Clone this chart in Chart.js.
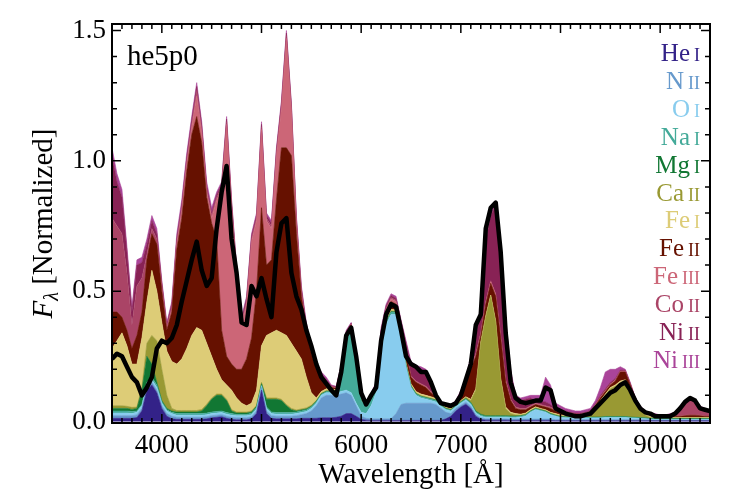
<!DOCTYPE html>
<html>
<head>
<meta charset="utf-8">
<script src="https://cdn.jsdelivr.net/npm/chart.js@4.4.1/dist/chart.umd.min.js"></script>
<style>
  html, body { margin: 0; padding: 0; background: #fff; }
  #wrap { width: 747px; height: 498px; position: relative; }
</style>
</head>
<body>
<div id="wrap"><canvas id="spectrumChart"></canvas></div>
<script>
// wavelength grid (Angstrom)
const wavelength = [
  3500,3550,3600,3650,3700,3750,3800,3850,3900,3950,
  4000,4050,4100,4150,4200,4250,4300,4350,4400,4450,
  4500,4550,4600,4650,4700,4750,4800,4850,4900,4950,
  5000,5050,5100,5150,5200,5250,5300,5350,5400,5450,
  5500,5550,5600,5650,5700,5750,5800,5850,5900,5950,
  6000,6050,6100,6150,6200,6250,6300,6350,6400,6450,
  6500,6550,6600,6650,6700,6750,6800,6850,6900,6950,
  7000,7050,7100,7150,7200,7250,7300,7350,7400,7450,
  7500,7550,7600,7650,7700,7750,7800,7850,7900,7950,
  8000,8050,8100,8150,8200,8250,8300,8350,8400,8450,
  8500,8550,8600,8650,8700,8750,8800,8850,8900,8950,
  9000,9050,9100,9150,9200,9250,9300,9350,9400,9450,9500
];

// cumulative flux: top edge of each species band, bottom band first
const heI = [
  .012,.012,.012,.012,.012,.015,.040,.120,.140,.110,
  .050,.020,.010,.008,.008,.008,.008,.008,.008,.010,
  .014,.016,.018,.012,.008,.006,.006,.006,.010,.030,
  .120,.030,.012,.010,.010,.010,.010,.010,.012,.012,
  .012,.012,.014,.014,.014,.016,.020,.030,.030,.020,
  .008,.005,.004,.004,.004,.004,.004,.004,.004,.004,
  .004,.004,.004,.004,.004,.004,.004,.010,.020,.040,
  .055,.066,.050,.020,.008,.005,.005,.005,.005,.005,
  .004,.004,.004,.004,.004,.004,.004,.004,.004,.003,
  .003,.003,.003,.003,.003,.003,.003,.003,.003,.003,
  .003,.003,.003,.003,.003,.003,.003,.003,.003,.003,
  .003,.003,.003,.003,.003,.003,.003,.003,.003,.003,.003
];
const nII = [
  .022,.022,.022,.022,.022,.025,.050,.130,.150,.120,
  .060,.030,.020,.016,.016,.016,.016,.016,.016,.018,
  .022,.024,.026,.020,.016,.014,.014,.014,.018,.040,
  .130,.040,.022,.020,.020,.020,.020,.022,.026,.030,
  .040,.060,.090,.100,.100,.100,.105,.110,.100,.060,
  .020,.012,.010,.010,.010,.010,.010,.030,.065,.070,
  .070,.070,.070,.070,.070,.065,.050,.035,.030,.050,
  .062,.074,.058,.026,.014,.010,.010,.010,.010,.010,
  .009,.009,.009,.009,.009,.009,.009,.009,.009,.007,
  .007,.007,.007,.007,.007,.007,.007,.007,.007,.007,
  .007,.007,.007,.007,.007,.007,.007,.006,.006,.005,
  .005,.005,.005,.005,.005,.005,.005,.005,.005,.005,.005
];
const oI = [
  .032,.032,.032,.032,.030,.035,.060,.140,.160,.130,
  .070,.040,.030,.024,.024,.024,.024,.024,.024,.026,
  .030,.032,.034,.028,.024,.022,.022,.022,.026,.048,
  .136,.050,.030,.028,.028,.028,.028,.030,.034,.038,
  .050,.070,.100,.110,.110,.110,.115,.120,.110,.070,
  .035,.030,.060,.110,.260,.370,.410,.410,.330,.210,
  .130,.100,.090,.085,.080,.075,.058,.045,.040,.056,
  .070,.082,.066,.032,.020,.015,.015,.015,.015,.015,
  .014,.014,.016,.020,.035,.045,.040,.035,.025,.020,
  .015,.014,.013,.012,.012,.013,.013,.013,.013,.015,
  .015,.015,.015,.015,.013,.012,.011,.010,.008,.007,
  .007,.007,.007,.007,.007,.007,.007,.007,.007,.007,.007
];
const naI = [
  .040,.040,.040,.040,.038,.040,.065,.150,.170,.140,
  .075,.045,.035,.030,.030,.030,.030,.030,.030,.032,
  .036,.038,.040,.034,.030,.027,.027,.027,.031,.053,
  .140,.055,.036,.034,.034,.034,.034,.036,.040,.044,
  .055,.075,.104,.114,.114,.115,.180,.320,.355,.225,
  .080,.055,.085,.120,.270,.380,.420,.418,.335,.215,
  .135,.105,.095,.090,.085,.080,.061,.048,.043,.059,
  .073,.086,.070,.036,.024,.019,.019,.019,.019,.019,
  .018,.018,.020,.024,.038,.048,.043,.038,.028,.022,
  .017,.016,.015,.014,.014,.015,.015,.015,.015,.017,
  .017,.017,.017,.017,.015,.014,.013,.012,.010,.009,
  .009,.009,.009,.009,.009,.009,.009,.009,.009,.009,.009
];
const mgI = [
  .050,.050,.050,.050,.046,.050,.120,.250,.220,.150,
  .080,.050,.040,.036,.036,.036,.036,.036,.040,.060,
  .085,.100,.100,.080,.040,.032,.032,.032,.036,.058,
  .145,.085,.085,.085,.080,.060,.045,.040,.044,.048,
  .058,.078,.106,.116,.116,.117,.182,.322,.357,.227,
  .082,.057,.087,.122,.272,.382,.422,.420,.337,.217,
  .137,.107,.097,.092,.087,.082,.063,.050,.045,.061,
  .075,.088,.073,.040,.028,.022,.022,.022,.022,.022,
  .021,.021,.022,.026,.040,.050,.045,.040,.030,.024,
  .019,.018,.017,.016,.016,.017,.017,.017,.017,.019,
  .019,.019,.019,.019,.017,.016,.015,.014,.012,.011,
  .011,.011,.011,.011,.011,.011,.011,.011,.011,.011,.011
];
const caII = [
  .060,.060,.060,.058,.054,.055,.130,.300,.330,.310,
  .200,.100,.050,.042,.042,.042,.042,.042,.046,.066,
  .090,.105,.105,.085,.045,.036,.036,.036,.040,.062,
  .150,.090,.090,.090,.085,.065,.050,.044,.048,.052,
  .062,.080,.108,.118,.118,.119,.184,.324,.359,.229,
  .084,.059,.089,.124,.274,.384,.424,.422,.339,.219,
  .139,.109,.099,.094,.089,.084,.065,.052,.047,.063,
  .078,.092,.080,.120,.300,.400,.480,.380,.160,.050,
  .030,.025,.024,.028,.042,.052,.047,.042,.032,.026,
  .021,.020,.019,.018,.018,.019,.025,.050,.075,.100,
  .125,.135,.145,.150,.120,.080,.045,.025,.015,.013,
  .013,.013,.013,.013,.013,.013,.013,.013,.013,.013,.013
];
const feI = [
  .28,.31,.34,.29,.22,.22,.32,.46,.58,.50,
  .38,.27,.23,.22,.24,.28,.33,.36,.35,.30,
  .25,.20,.16,.14,.12,.09,.07,.06,.07,.12,
  .29,.33,.34,.35,.34,.33,.30,.27,.24,.17,
  .11,.09,.115,.125,.124,.122,.187,.327,.362,.231,
  .086,.060,.091,.126,.280,.390,.430,.428,.345,.225,
  .145,.115,.105,.100,.095,.088,.067,.054,.049,.065,
  .080,.095,.085,.125,.305,.405,.485,.385,.165,.055,
  .035,.030,.028,.032,.046,.056,.050,.045,.035,.030,
  .025,.023,.022,.021,.021,.022,.030,.055,.080,.105,
  .130,.140,.155,.160,.130,.085,.050,.030,.020,.016,
  .015,.015,.015,.015,.015,.015,.015,.015,.015,.015,.015
];
const feII = [
  .42,.42,.40,.35,.28,.33,.42,.62,.72,.68,
  .50,.35,.42,.66,.78,.96,1.10,1.17,1.07,.86,
  .76,.70,.35,.25,.22,.20,.20,.24,.32,.50,
  .82,.60,.62,.85,1.05,1.05,1.02,.72,.48,.35,
  .26,.20,.17,.15,.13,.127,.205,.337,.370,.238,
  .092,.062,.100,.135,.320,.420,.460,.450,.370,.260,
  .170,.150,.140,.130,.110,.095,.070,.058,.055,.070,
  .100,.150,.200,.250,.330,.450,.530,.480,.320,.150,
  .080,.050,.045,.045,.055,.065,.060,.055,.050,.040,
  .035,.030,.028,.025,.025,.028,.035,.060,.090,.115,
  .140,.155,.190,.190,.140,.088,.055,.035,.028,.020,
  .018,.018,.018,.019,.020,.022,.024,.024,.022,.020,.020
];
const feIII = [
  .42,.42,.40,.35,.28,.33,.42,.62,.72,.68,
  .51,.355,.43,.68,.81,.99,1.13,1.25,1.11,.88,
  .78,.85,.89,1.14,.82,.57,.37,.45,.69,.77,
  1.12,.77,.74,1.02,1.20,1.47,1.19,.76,.49,.355,
  .262,.202,.172,.152,.132,.129,.207,.339,.372,.240,
  .093,.063,.102,.138,.330,.430,.470,.460,.372,.262,
  .172,.152,.142,.132,.112,.097,.071,.059,.056,.071,
  .102,.152,.205,.255,.335,.455,.535,.485,.325,.155,
  .082,.052,.047,.047,.057,.067,.062,.057,.052,.042,
  .037,.032,.030,.027,.027,.030,.037,.062,.092,.117,
  .142,.157,.192,.192,.142,.089,.056,.036,.029,.021,
  .019,.019,.019,.020,.021,.023,.025,.025,.023,.021,.021
];
const coII = [
  .78,.75,.72,.57,.37,.52,.55,.64,.74,.70,
  .52,.36,.44,.69,.82,1.00,1.14,1.27,1.12,.89,
  .79,.86,.90,1.15,.83,.58,.38,.46,.70,.78,
  1.13,.78,.75,1.03,1.21,1.48,1.20,.77,.50,.36,
  .265,.205,.175,.155,.134,.131,.210,.342,.374,.242,
  .094,.064,.104,.141,.340,.435,.475,.465,.375,.265,
  .175,.155,.145,.135,.115,.100,.072,.060,.057,.072,
  .104,.155,.210,.260,.340,.460,.540,.490,.330,.160,
  .085,.055,.050,.050,.060,.070,.065,.060,.055,.045,
  .040,.035,.032,.029,.029,.032,.039,.064,.094,.119,
  .144,.159,.194,.194,.144,.090,.057,.037,.030,.022,
  .020,.020,.024,.030,.045,.075,.090,.080,.055,.045,.035
];
const niII = [
  1.02,.92,.86,.65,.42,.60,.61,.68,.77,.72,
  .53,.37,.45,.70,.83,1.01,1.155,1.285,1.135,.90,
  .80,.87,.91,1.16,.84,.59,.39,.47,.71,.79,
  1.14,.79,.76,1.04,1.22,1.49,1.21,.78,.51,.37,
  .27,.21,.18,.16,.136,.133,.213,.345,.377,.245,
  .096,.065,.107,.145,.350,.443,.483,.472,.385,.300,
  .220,.205,.200,.190,.150,.105,.074,.063,.062,.077,
  .115,.165,.240,.320,.440,.690,.790,.830,.610,.390,
  .190,.090,.080,.085,.090,.080,.075,.075,.065,.050,
  .045,.040,.035,.032,.032,.035,.042,.067,.100,.125,
  .150,.165,.197,.196,.146,.091,.058,.038,.032,.026,
  .022,.022,.027,.032,.047,.077,.092,.082,.057,.047,.037
];
const niIII = [
  1.05,.95,.89,.67,.44,.62,.63,.70,.79,.74,
  .54,.38,.46,.72,.85,1.03,1.17,1.30,1.15,.92,
  .82,.88,.92,1.17,.85,.60,.40,.48,.72,.80,
  1.15,.80,.77,1.05,1.23,1.50,1.22,.79,.52,.38,
  .28,.22,.19,.17,.14,.135,.22,.35,.38,.25,
  .10,.066,.11,.15,.36,.45,.49,.48,.39,.31,
  .23,.215,.21,.20,.16,.11,.075,.065,.065,.08,
  .12,.17,.25,.33,.45,.70,.80,.84,.62,.40,
  .20,.10,.09,.095,.10,.10,.10,.17,.14,.07,
  .06,.05,.045,.04,.04,.045,.05,.08,.13,.19,
  .20,.20,.21,.20,.15,.092,.06,.04,.035,.03,
  .025,.025,.03,.035,.05,.08,.095,.085,.06,.05,.04
];
// observed spectrum
const observed = [
  .24,.26,.25,.21,.17,.15,.10,.13,.17,.28,
  .31,.30,.32,.37,.46,.54,.62,.69,.58,.52,
  .55,.74,.88,.98,.70,.57,.38,.37,.52,.48,
  .55,.47,.40,.65,.76,.78,.57,.48,.43,.35,
  .29,.22,.17,.145,.12,.10,.19,.33,.36,.25,
  .11,.065,.10,.13,.31,.41,.45,.44,.35,.25,
  .22,.21,.19,.19,.15,.10,.07,.065,.06,.07,
  .10,.16,.22,.37,.41,.74,.82,.84,.65,.34,
  .15,.09,.075,.07,.075,.08,.08,.13,.12,.05,
  .04,.03,.025,.02,.02,.025,.03,.05,.07,.09,
  .11,.12,.14,.15,.12,.08,.05,.035,.03,.02,
  .02,.02,.02,.03,.05,.075,.09,.08,.05,.045,.04
];

const ionElement = ['He','N','O','Na','Mg','Ca','Fe','Fe','Fe','Co','Ni','Ni'];
const ionStage   = ['I','II','I','I','I','II','I','II','III','II','II','III'];
const ionColor   = ['#332288','#6699CC','#88CCEE','#44AA99','#117733','#999933',
                    '#DDCC77','#661100','#CC6677','#AA4466','#882255','#AA4499'];
const ionBands   = [heI, nII, oI, naI, mgI, caII, feI, feII, feIII, coII, niII, niIII];

const xTicks = [4000, 5000, 6000, 7000, 8000, 9000];
const yTicks = [0.0, 0.5, 1.0, 1.5];
const modelName = 'he5p0';

const SERIF = '"Liberation Serif", "DejaVu Serif", serif';

function pts(arr) {
  return wavelength.map((w, i) => ({ x: w, y: arr[i] }));
}

const datasets = [{
  label: 'observed',
  data: pts(observed),
  borderColor: '#000',
  borderWidth: 4.5,
  borderJoinStyle: 'round',
  pointRadius: 0,
  fill: false,
  tension: 0,
  order: -1
}];
ionBands.forEach((band, i) => {
  datasets.push({
    label: ionElement[i] + ' ' + ionStage[i],
    data: pts(band),
    borderColor: ionColor[i],
    borderWidth: 0.6,
    backgroundColor: ionColor[i],
    pointRadius: 0,
    tension: 0,
    fill: i === 0 ? 'origin' : '-1'
  });
});

// frame with inward ticks, plus the text bits
const decorations = {
  id: 'decorations',
  afterDraw(chart) {
    const { ctx, chartArea: a, scales: { x, y } } = chart;
    ctx.save();
    ctx.strokeStyle = '#000';
    ctx.lineWidth = 2;
    ctx.strokeRect(a.left, a.top, a.right - a.left, a.bottom - a.top);

    ctx.lineWidth = 1.5;
    ctx.beginPath();
    for (let w = 3600; w < 9500; w += 100) {
      const px = x.getPixelForValue(w);
      const len = w % 1000 === 0 ? 9 : 5;
      ctx.moveTo(px, a.bottom); ctx.lineTo(px, a.bottom - len);
      ctx.moveTo(px, a.top); ctx.lineTo(px, a.top + len);
    }
    for (let k = 1; k <= 15; k++) {
      const py = y.getPixelForValue(k / 10);
      const len = k % 5 === 0 ? 9 : 5;
      ctx.moveTo(a.left, py); ctx.lineTo(a.left + len, py);
      ctx.moveTo(a.right, py); ctx.lineTo(a.right - len, py);
    }
    ctx.stroke();

    // model name
    ctx.fillStyle = '#000';
    ctx.textAlign = 'left';
    ctx.textBaseline = 'alphabetic';
    ctx.font = '29px ' + SERIF;
    ctx.fillText(modelName, a.left + 15, 65);

    // species key, right aligned
    ionElement.forEach((el, i) => {
      const base = 61 + i * 27.9;
      ctx.fillStyle = ionColor[i];
      ctx.textAlign = 'right';
      ctx.font = '18px ' + SERIF;
      ctx.fillText(ionStage[i], 700, base);
      const sw = ctx.measureText(ionStage[i]).width;
      ctx.font = '25px ' + SERIF;
      ctx.fillText(el, 700 - sw - 4, base);
    });

    // x title
    ctx.fillStyle = '#000';
    ctx.textAlign = 'center';
    ctx.font = '29px ' + SERIF;
    ctx.fillText('Wavelength [\u00C5]', (a.left + a.right) / 2, 483);

    // y title: F_lambda [Normalized]
    ctx.translate(42, (a.top + a.bottom) / 2);
    ctx.rotate(-Math.PI / 2);
    ctx.textAlign = 'left';
    const fF = 'italic 29px ' + SERIF, fL = 'italic 20px ' + SERIF, fN = '29px ' + SERIF;
    ctx.font = fF; const w1 = ctx.measureText('F').width;
    ctx.font = fL; const w2 = ctx.measureText('\u03BB').width;
    ctx.font = fN; const w3 = ctx.measureText(' [Normalized]').width;
    let cx = -(w1 + w2 + w3) / 2;
    ctx.font = fF; ctx.fillText('F', cx, 10); cx += w1;
    ctx.font = fL; ctx.fillText('\u03BB', cx, 16); cx += w2;
    ctx.font = fN; ctx.fillText(' [Normalized]', cx, 10);
    ctx.restore();
  }
};

new Chart(document.getElementById('spectrumChart'), {
  type: 'line',
  data: { datasets: datasets },
  options: {
    responsive: true,
    maintainAspectRatio: false,
    animation: false,
    layout: { padding: { top: 24, right: 37, left: 0, bottom: 0 } },
    plugins: {
      legend: { display: false },
      tooltip: { enabled: false }
    },
    scales: {
      x: {
        type: 'linear',
        min: 3500,
        max: 9500,
        grid: { display: false, drawTicks: false },
        border: { display: false },
        afterFit: s => { s.height = 75; },
        afterBuildTicks: s => { s.ticks = xTicks.map(v => ({ value: v })); },
        ticks: {
          padding: 7,
          maxRotation: 0,
          color: '#000',
          font: { family: SERIF, size: 27 },
          callback: v => String(v)
        }
      },
      y: {
        min: -0.006,
        max: 1.525,
        grid: { display: false, drawTicks: false },
        border: { display: false },
        afterFit: s => { s.width = 112; },
        afterBuildTicks: s => { s.ticks = yTicks.map(v => ({ value: v })); },
        ticks: {
          padding: 6,
          color: '#000',
          font: { family: SERIF, size: 27 },
          callback: v => Number(v).toFixed(1)
        }
      }
    }
  },
  plugins: [decorations]
});
</script>
</body>
</html>
